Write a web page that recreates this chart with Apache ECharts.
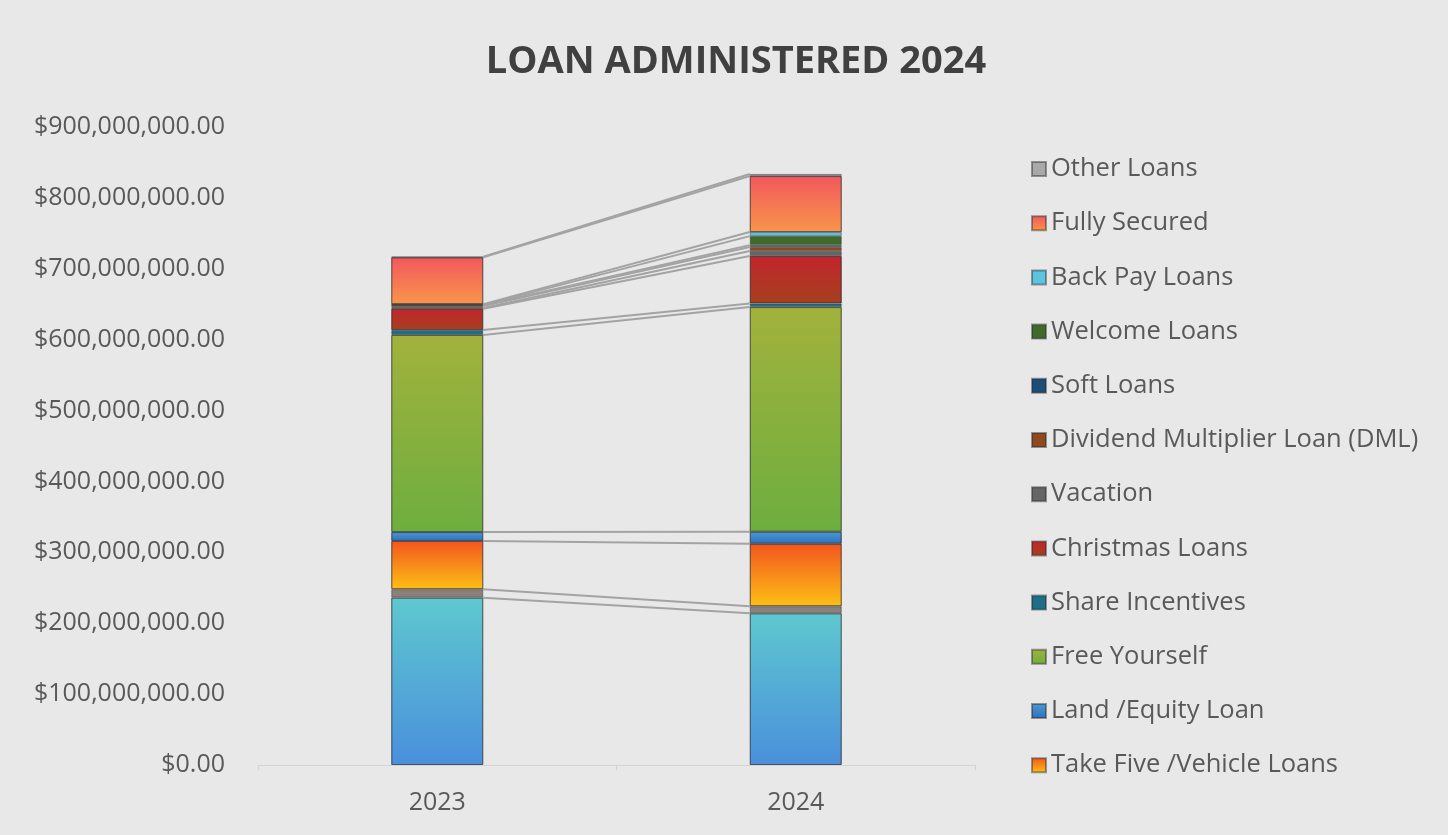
<!DOCTYPE html>
<html>
<head>
<meta charset="utf-8">
<script src="https://cdn.jsdelivr.net/npm/echarts@6/dist/echarts.min.js"></script>
<style>
  html, body { margin: 0; padding: 0; background: #e8e8e8; }
  #chart { width: 1448px; height: 835px; }
</style>
</head>
<body>
<div id="chart"></div>
<script>
// 年份
const years = ['2023', '2024'];

// 各贷款类型金额（美元），从下往上堆叠
const baseLoans = [236000000, 214000000];        // 底部未在图例中显示
const smallLoans = [12000000, 10000000];         // 底部灰色细条，未在图例中显示
const takeFive = [68000000, 88000000];
const landEquity = [12600000, 17000000];
const freeYourself = [278000000, 317000000];
const shareIncentives = [7000000, 5000000];
const christmasLoans = [30000000, 67000000];
const vacation = [1000000, 7000000];
const dividendMultiplier = [3000000, 5600000];
const softLoans = [1000000, 2800000];
const welcomeLoans = [500000, 12700000];
const backPayLoans = [1000000, 5700000];
const fullySecured = [66000000, 79000000];
const otherLoans = [1000000, 3000000];

// Y轴刻度
const yMin = 0;
const yMax = 900000000;
const yStep = 100000000;

const FONT = 'Open Sans';

const grad = (top, bottom) => new echarts.graphic.LinearGradient(0, 0, 0, 1, [
    { offset: 0, color: top },
    { offset: 1, color: bottom }
]);

// 系列定义（堆叠顺序）
const seriesDefs = [
    { name: 'Base Loans', data: baseLoans, color: grad('#5ec8cf', '#4a8fdc') },
    { name: 'Small Loans', data: smallLoans, color: '#8a807c' },
    { name: 'Take Five /Vehicle Loans', data: takeFive, color: grad('#f2561f', '#fdbf14') },
    { name: 'Land /Equity Loan', data: landEquity, color: grad('#4a9ad6', '#2f6fb8') },
    { name: 'Free Yourself', data: freeYourself, color: grad('#a2b23c', '#6dae3f') },
    { name: 'Share Incentives', data: shareIncentives, color: '#1e6e88' },
    { name: 'Christmas Loans', data: christmasLoans, color: grad('#c3252c', '#a4401f') },
    { name: 'Vacation', data: vacation, color: '#666666' },
    { name: 'Dividend Multiplier Loan (DML)', data: dividendMultiplier, color: '#8e4a1e' },
    { name: 'Soft Loans', data: softLoans, color: '#1d4e78' },
    { name: 'Welcome Loans', data: welcomeLoans, color: '#3f6b2a' },
    { name: 'Back Pay Loans', data: backPayLoans, color: '#5cc3e0' },
    { name: 'Fully Secured', data: fullySecured, color: grad('#f2585d', '#f8954a') },
    { name: 'Other Loans', data: otherLoans, color: '#a9a9a9' }
];

// 图例只显示原图中可见的12项（从上到下）
const legendNames = seriesDefs.slice(2).map(s => s.name).reverse();

// 每个系列顶端的累计值，用于连接线
const tops = [];
let acc = [0, 0];
seriesDefs.forEach(s => {
    acc = acc.map((v, i) => v + s.data[i]);
    tops.push([0, acc[0], acc[1]]);
});

const BAR_W = 92;

const chart = echarts.init(document.getElementById('chart'));

const option = {
    backgroundColor: '#e8e8e8',
    textStyle: { fontFamily: FONT },
    title: {
        text: 'LOAN ADMINISTERED 2024',
        left: 731,
        textAlign: 'center',
        top: 38,
        textStyle: {
            fontFamily: FONT,
            fontSize: 38,
            fontWeight: 'bold',
            color: '#404040'
        }
    },
    grid: {
        left: 258,
        right: 473,
        top: 127,
        bottom: 70
    },
    legend: {
        orient: 'vertical',
        left: 1026,
        top: 151,
        data: legendNames,
        itemWidth: 14,
        itemHeight: 14,
        itemGap: 28.2,
        icon: 'rect',
        textStyle: {
            fontFamily: FONT,
            fontSize: 25.5,
            color: '#595959'
        },
        selectedMode: false
    },
    xAxis: {
        type: 'category',
        data: years,
        axisLine: { lineStyle: { color: '#d4d4d4', width: 1 } },
        axisTick: { show: true, length: 5, lineStyle: { color: '#d4d4d4' } },
        axisLabel: {
            fontFamily: FONT,
            fontSize: 25,
            color: '#595959',
            margin: 25
        }
    },
    yAxis: {
        type: 'value',
        min: yMin,
        max: yMax,
        interval: yStep,
        axisLine: { show: false },
        axisTick: { show: false },
        splitLine: { show: false },
        axisLabel: {
            fontFamily: FONT,
            fontSize: 25,
            color: '#595959',
            margin: 33,
            formatter: v => '$' + v.toLocaleString('en-US', { minimumFractionDigits: 2, maximumFractionDigits: 2 })
        }
    },
    series: seriesDefs.map(s => ({
        name: s.name,
        type: 'bar',
        stack: 'loans',
        barWidth: BAR_W,
        data: s.data,
        itemStyle: {
            color: s.color,
            borderColor: 'rgba(40,40,40,0.45)',
            borderWidth: 1
        },
        emphasis: { disabled: true }
    })).concat([{
        // Excel 风格的系列连接线
        type: 'custom',
        name: 'series lines',
        data: tops,
        encode: { x: 0, y: [1, 2] },
        z: 1,
        renderItem: (params, api) => {
            const p1 = api.coord([0, api.value(1)]);
            const p2 = api.coord([1, api.value(2)]);
            return {
                type: 'line',
                shape: {
                    x1: p1[0] + BAR_W / 2,
                    y1: p1[1],
                    x2: p2[0] - BAR_W / 2,
                    y2: p2[1]
                },
                style: { stroke: '#a3a3a3', lineWidth: 2 }
            };
        }
    }])
};

chart.setOption(option);
</script>
</body>
</html>
